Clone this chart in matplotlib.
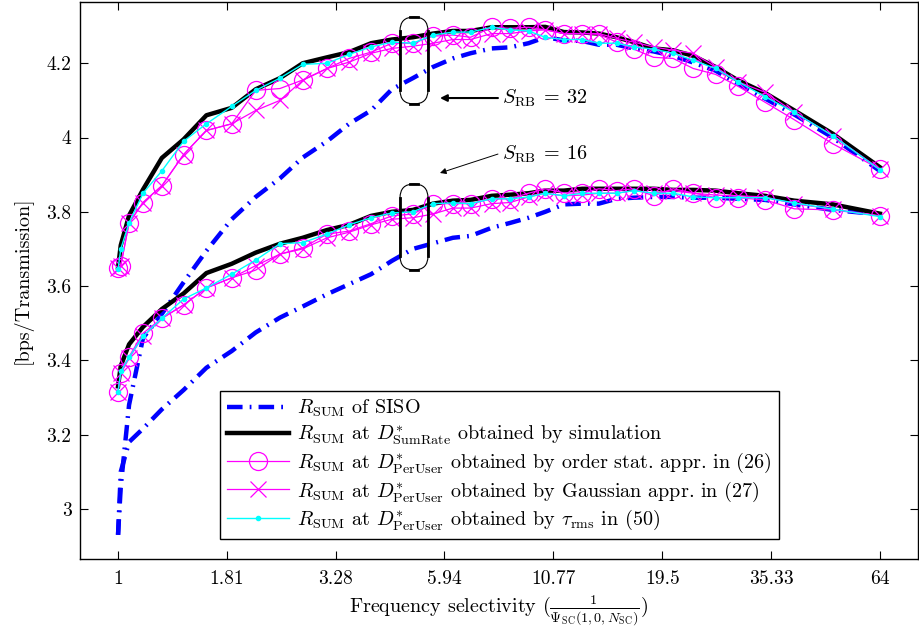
import matplotlib
matplotlib.use('Agg')
import matplotlib.pyplot as plt
from matplotlib.patches import FancyBboxPatch
from matplotlib.ticker import NullLocator

plt.rcParams['font.family'] = 'serif'
plt.rcParams['font.serif'] = ['cmr10']
plt.rcParams['mathtext.fontset'] = 'cm'
plt.rcParams['axes.formatter.use_mathtext'] = True
plt.rcParams['axes.unicode_minus'] = False

# Frequency selectivity 1/Psi_SC(1,0,N_SC)
sel = [1, 1.015, 1.062, 1.146, 1.27, 1.43, 1.62, 1.86, 2.12, 2.42, 2.74,
       3.13, 3.53, 3.98, 4.46, 5.0, 5.58, 6.22, 6.85, 7.69, 8.5, 9.4, 10.3,
       11.4, 12.6, 13.8, 15.2, 16.7, 18.6, 20.7, 23.1, 26.1, 29.5, 34.2,
       40.1, 49.5, 64]

# S_RB = 32
siso_32 = [2.93, 3.06, 3.28, 3.46, 3.525, 3.61, 3.695, 3.78, 3.84, 3.89,
           3.946, 3.99, 4.037, 4.073, 4.13, 4.16, 4.19, 4.213, 4.227, 4.24,
           4.243, 4.254, 4.27, 4.262, 4.26, 4.25, 4.25, 4.24, 4.232, 4.22,
           4.202, 4.18, 4.145, 4.105, 4.062, 4.0, 3.91]
sim_32 = [3.65, 3.71, 3.79, 3.86, 3.945, 3.995, 4.06, 4.08, 4.13, 4.16,
          4.2, 4.216, 4.23, 4.254, 4.264, 4.27, 4.28, 4.287, 4.287, 4.297,
          4.297, 4.297, 4.298, 4.284, 4.283, 4.28, 4.27, 4.257, 4.24, 4.235,
          4.22, 4.19, 4.154, 4.12, 4.073, 4.01, 3.92]
ostat_32 = [3.649, 3.655, 3.77, 3.825, 3.87, 3.954, 4.019, 4.037, 4.127,
            4.132, 4.155, 4.186, 4.213, 4.23, 4.254, 4.254, 4.273, 4.276,
            4.27, 4.297, 4.294, 4.297, 4.29, 4.28, 4.28, 4.278, 4.257, 4.238,
            4.216, 4.213, 4.186, 4.17, 4.138, 4.095, 4.048, 3.983, 3.915]
gauss_32 = [3.649, 3.655, 3.77, 3.825, 3.87, 3.954, 4.019, 4.037, 4.073,
            4.1, 4.154, 4.186, 4.203, 4.227, 4.24, 4.246, 4.254, 4.264,
            4.264, 4.28, 4.28, 4.287, 4.29, 4.28, 4.28, 4.28, 4.267, 4.257,
            4.244, 4.235, 4.227, 4.19, 4.15, 4.122, 4.068, 4.005, 3.915]
trms_32 = [3.645, 3.7, 3.77, 3.85, 3.91, 3.99, 4.037, 4.084, 4.127, 4.16,
           4.197, 4.2, 4.224, 4.244, 4.257, 4.254, 4.276, 4.284, 4.284,
           4.297, 4.29, 4.287, 4.27, 4.264, 4.264, 4.254, 4.254, 4.244,
           4.238, 4.227, 4.208, 4.186, 4.15, 4.11, 4.068, 4.005, 3.913]

# S_RB = 16
siso_16 = [2.93, 3.1, 3.18, 3.216, 3.268, 3.32, 3.38, 3.425, 3.475, 3.515,
           3.545, 3.578, 3.605, 3.632, 3.668, 3.7, 3.715, 3.73, 3.735, 3.757,
           3.77, 3.784, 3.8, 3.82, 3.822, 3.822, 3.835, 3.838, 3.84, 3.84,
           3.838, 3.838, 3.835, 3.832, 3.82, 3.805, 3.793]
sim_16 = [3.33, 3.385, 3.443, 3.49, 3.538, 3.58, 3.635, 3.66, 3.69, 3.714,
          3.73, 3.751, 3.765, 3.789, 3.8, 3.805, 3.822, 3.83, 3.832, 3.843,
          3.846, 3.85, 3.857, 3.857, 3.862, 3.862, 3.862, 3.862, 3.862,
          3.859, 3.859, 3.857, 3.85, 3.843, 3.83, 3.82, 3.795]
ostat_16 = [3.316, 3.365, 3.41, 3.473, 3.513, 3.549, 3.595, 3.622, 3.643,
            3.686, 3.703, 3.74, 3.748, 3.768, 3.789, 3.794, 3.822, 3.822,
            3.822, 3.835, 3.835, 3.85, 3.862, 3.851, 3.85, 3.862, 3.857,
            3.862, 3.843, 3.862, 3.851, 3.838, 3.838, 3.832, 3.808, 3.805,
            3.789]
gauss_16 = [3.316, 3.365, 3.405, 3.465, 3.513, 3.549, 3.595, 3.622, 3.655,
            3.686, 3.7, 3.73, 3.745, 3.765, 3.78, 3.784, 3.794, 3.81, 3.81,
            3.822, 3.825, 3.84, 3.85, 3.843, 3.845, 3.85, 3.85, 3.857, 3.85,
            3.857, 3.85, 3.845, 3.843, 3.84, 3.822, 3.807, 3.789]
trms_16 = [3.316, 3.37, 3.408, 3.465, 3.513, 3.565, 3.595, 3.632, 3.67,
           3.714, 3.717, 3.74, 3.765, 3.784, 3.797, 3.8, 3.822, 3.824, 3.822,
           3.835, 3.835, 3.84, 3.85, 3.843, 3.85, 3.85, 3.85, 3.857, 3.85,
           3.85, 3.84, 3.838, 3.838, 3.838, 3.824, 3.807, 3.787]

xtick_vals = [1, 1.81, 3.28, 5.94, 10.77, 19.5, 35.33, 64]
xtick_labels = ['1', '1.81', '3.28', '5.94', '10.77', '19.5', '35.33', '64']
ytick_vals = [3, 3.2, 3.4, 3.6, 3.8, 4, 4.2]
ytick_labels = ['3', '3.2', '3.4', '3.6', '3.8', '4', '4.2']

labels = [
    r'$R_{\rm SUM}$ of SISO',
    r'$R_{\rm SUM}$ at $D^{*}_{\rm SumRate}$ obtained by simulation',
    r'$R_{\rm SUM}$ at $D^{*}_{\rm PerUser}$ obtained by order stat. appr. in (26)',
    r'$R_{\rm SUM}$ at $D^{*}_{\rm PerUser}$ obtained by Gaussian appr. in (27)',
    r'$R_{\rm SUM}$ at $D^{*}_{\rm PerUser}$ obtained by $\tau_{\rm rms}$ in (50)',
]

fig = plt.figure(figsize=(9.19, 6.27), dpi=100)
ax = fig.add_axes([0.087, 0.1085, 0.9119, 0.8883])

siso_kw = dict(color='#0000ff', lw=3.2, dashes=(3.5, 1.6, 0.4, 1.6))
sim_kw = dict(color='k', lw=3.2)
ostat_kw = dict(color='#ff00ff', lw=0.9, marker='o', ms=13, mfc='none',
                mew=0.9)
gauss_kw = dict(color='#ff00ff', lw=0.9, marker='x', ms=11, mew=0.9)
trms_kw = dict(color='#00ffff', lw=1.0, marker='.', ms=6)

for k, (siso, sim, ostat, gauss, trms) in enumerate(
        [(siso_32, sim_32, ostat_32, gauss_32, trms_32),
         (siso_16, sim_16, ostat_16, gauss_16, trms_16)]):
    lab = labels if k == 0 else [None] * 5
    ax.plot(sel, siso, label=lab[0], **siso_kw)
    ax.plot(sel, sim, label=lab[1], **sim_kw)
    ax.plot(sel, ostat, label=lab[2], **ostat_kw)
    ax.plot(sel, gauss, label=lab[3], **gauss_kw)
    ax.plot(sel, trms, label=lab[4], **trms_kw)

ax.set_xscale('log', base=2)
ax.set_xlim(2 ** -0.3, 2 ** 6.3)
ax.set_ylim(2.865, 4.365)
ax.set_xticks(xtick_vals)
ax.set_xticklabels(xtick_labels)
ax.xaxis.set_minor_locator(NullLocator())
ax.set_yticks(ytick_vals)
ax.set_yticklabels(ytick_labels)
ax.tick_params(direction='in', top=True, right=True, length=6, width=0.8,
               labelsize=14)
ax.tick_params(axis='x', pad=8)
ax.tick_params(axis='y', pad=6)
for s in ax.spines.values():
    s.set_linewidth(1.0)

ax.set_xlabel(r'Frequency selectivity ($\frac{1}{\Psi_{\rm SC}(1,0,N_{\rm SC})}$)',
              fontsize=14.5, labelpad=4)
ax.set_ylabel('[bps/Transmission]', fontsize=14.5, labelpad=10)

# capsules marking the two S_RB groups
for y0, h in [(0.8169, 0.1562), (0.5189, 0.1544)]:
    box = FancyBboxPatch((0.3819, y0), 0.0334, h,
                         boxstyle='round,pad=0,rounding_size=0.0167',
                         mutation_aspect=838 / 557, transform=ax.transAxes,
                         fill=False, ec='k', lw=0.8, zorder=5)
    ax.add_patch(box)
    for xs in (0.3819, 0.3819 + 0.0334):
        ax.plot([xs, xs], [y0 + 0.025, y0 + h - 0.025], color='k', lw=2,
                transform=ax.transAxes, zorder=5)
    for ys in (y0, y0 + h):
        ax.plot([0.3819 + 0.0167 - 0.005, 0.3819 + 0.0167 + 0.005], [ys, ys],
                color='k', lw=2, transform=ax.transAxes, zorder=5)

ax.annotate('', xy=(0.4296, 0.8276), xytext=(0.4988, 0.8276),
            xycoords='axes fraction',
            arrowprops=dict(arrowstyle='-|>', color='k', lw=1.5,
                            mutation_scale=10, shrinkA=0, shrinkB=0))
ax.text(0.5036, 0.8276, r'$S_{\rm RB}\:=\:32$', transform=ax.transAxes,
        fontsize=14.5, va='center', ha='left')
ax.annotate('', xy=(0.4296, 0.693), xytext=(0.4988, 0.727),
            xycoords='axes fraction',
            arrowprops=dict(arrowstyle='-|>', color='k', lw=0.7,
                            mutation_scale=9, shrinkA=0, shrinkB=0))
ax.text(0.5036, 0.727, r'$S_{\rm RB}\:=\:16$', transform=ax.transAxes,
        fontsize=14.5, va='center', ha='left')

leg = ax.legend(loc='lower left', bbox_to_anchor=(0.167, 0.036),
                fontsize=14.5, fancybox=False, framealpha=1, edgecolor='k',
                handlelength=3.1, handletextpad=0.4, borderpad=0.35,
                labelspacing=0.2, borderaxespad=0)
leg.get_frame().set_linewidth(1.0)

fig.savefig('out.png', dpi=100)
